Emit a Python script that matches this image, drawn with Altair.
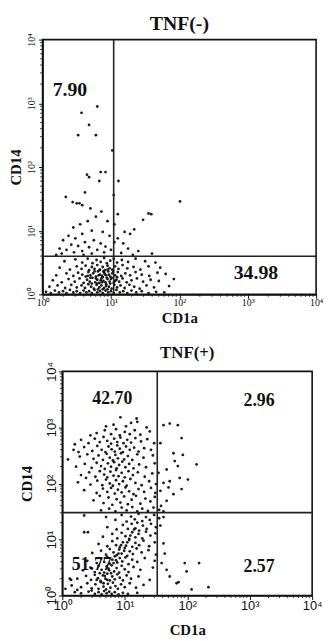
import altair as alt
import pandas as pd

# ---------------- data (log10 decades) ----------------
TICK_VALUES = [1, 10, 100, 1000, 10000]
TICK_LABELS = ["10\u2070", "10\u00b9", "10\u00b2", "10\u00b3", "10\u2074"]
MINOR_TICKS = [m * 10 ** k for k in range(4) for m in range(2, 10)]

TOP_TITLE = "TNF(-)"
BOTTOM_TITLE = "TNF(+)"

TOP_GATE = (1.04, 0.60)      # (CD1a, CD14) gate position in decades
BOTTOM_GATE = (1.52, 1.48)

TOP_LABELS = [("7.90", 0.40, 3.21), ("34.98", 3.12, 0.33)]
BOTTOM_LABELS = [("42.70", 0.80, 3.50), ("2.96", 3.15, 3.47),
                 ("51.77", 0.47, 0.55), ("2.57", 3.15, 0.51)]

TOP_SPARSE = [
    (0.80, 2.95), (0.57, 2.85), (0.68, 2.66), (0.52, 2.50), (0.78, 2.50), (1.02, 2.26),
    (0.85, 1.92), (0.92, 1.92), (0.65, 1.88), (0.68, 1.84), (0.83, 1.78), (1.11, 1.78),
    (0.34, 1.53), (0.44, 1.45), (0.50, 1.43), (0.54, 1.43), (0.58, 1.40), (2.01, 1.46),
    (1.04, 1.56), (1.55, 1.27), (1.59, 1.26), (1.47, 1.17), (1.34, 1.02), (1.10, 1.26),
    (0.62, 1.60), (0.70, 1.35), (0.86, 1.30), (0.78, 1.22), (0.66, 1.15), (0.55, 1.10),
    (0.45, 1.05), (0.95, 1.15), (1.05, 1.10), (1.20, 0.98), (1.28, 0.95), (0.38, 0.92),
    (0.30, 0.85), (0.25, 0.72), (0.48, 0.88), (0.58, 0.95), (0.72, 1.00), (0.88, 0.98),
    (0.98, 0.92), (1.10, 0.88), (1.18, 0.80), (0.62, 0.82), (0.75, 0.85), (0.85, 0.80),
    (0.52, 0.76), (0.42, 0.78), (0.35, 0.70), (0.68, 0.74), (0.92, 0.75), (1.00, 0.70),
    (1.25, 0.72), (1.40, 0.68), (1.05, 0.82), (0.80, 0.70), (0.58, 0.68), (0.46, 0.66),
    (0.28, 0.64), (0.20, 0.62), (0.90, 0.66), (1.15, 0.65), (1.32, 0.62), (1.60, 0.64),
    (0.72, 0.64), (0.60, 0.62),
]

TOP_CLUSTER = [
    (0.05, 0.04), (0.12, 0.02), (0.18, 0.06), (0.24, 0.03), (0.30, 0.05), (0.35, 0.02),
    (0.40, 0.07), (0.45, 0.03), (0.50, 0.05), (0.55, 0.02), (0.60, 0.06), (0.64, 0.03),
    (0.68, 0.05), (0.72, 0.02), (0.76, 0.07), (0.80, 0.03), (0.84, 0.05), (0.88, 0.02),
    (0.92, 0.06), (0.96, 0.03), (1.00, 0.05), (1.04, 0.02), (1.08, 0.07), (1.13, 0.03),
    (1.18, 0.05), (1.24, 0.02), (1.30, 0.06), (1.37, 0.03), (1.45, 0.05), (1.55, 0.02),
    (1.66, 0.04), (1.78, 0.03),
    (0.10, 0.12), (0.22, 0.14), (0.33, 0.10), (0.42, 0.15), (0.50, 0.11), (0.57, 0.14),
    (0.62, 0.10), (0.67, 0.16), (0.71, 0.12), (0.75, 0.09), (0.79, 0.15), (0.83, 0.11),
    (0.86, 0.14), (0.90, 0.10), (0.93, 0.16), (0.97, 0.12), (1.01, 0.09), (1.05, 0.15),
    (1.09, 0.11), (1.14, 0.14), (1.20, 0.10), (1.27, 0.15), (1.34, 0.12), (1.42, 0.09),
    (1.52, 0.14), (1.63, 0.11), (1.85, 0.13),
    (0.15, 0.22), (0.28, 0.19), (0.38, 0.24), (0.47, 0.20), (0.54, 0.25), (0.60, 0.18),
    (0.65, 0.23), (0.69, 0.20), (0.73, 0.26), (0.77, 0.19), (0.80, 0.23), (0.83, 0.18),
    (0.86, 0.25), (0.89, 0.21), (0.92, 0.19), (0.95, 0.24), (0.98, 0.20), (1.01, 0.26),
    (1.04, 0.18), (1.08, 0.23), (1.12, 0.20), (1.17, 0.25), (1.23, 0.19), (1.30, 0.22),
    (1.38, 0.25), (1.47, 0.20), (1.58, 0.23), (1.70, 0.21), (1.92, 0.24),
    (0.20, 0.30), (0.35, 0.33), (0.45, 0.29), (0.52, 0.34), (0.58, 0.31), (0.63, 0.28),
    (0.67, 0.35), (0.70, 0.30), (0.74, 0.33), (0.78, 0.28), (0.81, 0.36), (0.84, 0.31),
    (0.87, 0.29), (0.90, 0.34), (0.93, 0.30), (0.96, 0.36), (0.99, 0.28), (1.02, 0.33),
    (1.06, 0.30), (1.10, 0.35), (1.15, 0.29), (1.21, 0.33), (1.28, 0.30), (1.36, 0.35),
    (1.45, 0.31), (1.56, 0.29), (1.68, 0.34), (1.80, 0.32),
    (0.25, 0.42), (0.40, 0.39), (0.50, 0.44), (0.57, 0.40), (0.63, 0.45), (0.68, 0.38),
    (0.72, 0.43), (0.76, 0.40), (0.80, 0.46), (0.84, 0.39), (0.88, 0.43), (0.91, 0.38),
    (0.95, 0.45), (0.98, 0.41), (1.02, 0.39), (1.06, 0.44), (1.11, 0.40), (1.17, 0.46),
    (1.24, 0.41), (1.33, 0.43), (1.43, 0.39), (1.55, 0.44), (1.72, 0.42),
    (0.32, 0.52), (0.48, 0.55), (0.58, 0.50), (0.66, 0.56), (0.73, 0.49), (0.79, 0.54),
    (0.85, 0.51), (0.90, 0.57), (0.94, 0.49), (0.99, 0.53), (1.04, 0.56), (1.09, 0.50),
    (1.16, 0.54), (1.25, 0.51), (1.36, 0.56), (1.50, 0.52), (1.65, 0.50),
    (0.78, 0.25), (0.82, 0.30), (0.85, 0.22), (0.88, 0.27), (0.91, 0.32), (0.94, 0.26),
    (0.97, 0.31), (1.00, 0.24), (0.76, 0.36), (0.83, 0.38), (0.89, 0.36), (0.95, 0.39),
    (1.03, 0.37), (0.80, 0.17), (0.87, 0.19), (0.93, 0.13), (0.99, 0.17), (0.72, 0.17),
    (1.06, 0.21), (1.09, 0.27), (0.70, 0.26), (0.66, 0.29), (0.88, 0.08), (0.95, 0.08),
    (0.81, 0.08),
]

BOTTOM_UPPER = [
    (0.93, 3.18), (1.19, 3.16), (1.10, 3.08), (0.82, 3.05), (1.02, 3.02), (1.20, 3.10),
    (1.35, 3.00), (0.70, 3.02),
    (0.55, 2.90), (0.68, 2.95), (0.78, 2.88), (0.86, 2.97), (0.92, 2.86), (1.00, 2.92),
    (1.08, 2.88), (1.16, 2.95), (1.25, 2.87), (1.40, 2.93), (0.45, 2.86),
    (0.30, 2.78), (0.42, 2.72), (0.52, 2.80), (0.60, 2.74), (0.66, 2.83), (0.72, 2.76),
    (0.78, 2.71), (0.83, 2.80), (0.88, 2.74), (0.93, 2.82), (0.98, 2.72), (1.04, 2.78),
    (1.10, 2.73), (1.17, 2.81), (1.26, 2.75), (1.36, 2.79), (1.47, 2.72), (0.20, 2.70),
    (0.18, 2.60), (0.35, 2.65), (0.48, 2.58), (0.56, 2.67), (0.63, 2.60), (0.69, 2.56),
    (0.74, 2.66), (0.79, 2.61), (0.84, 2.57), (0.88, 2.68), (0.92, 2.62), (0.97, 2.56),
    (1.02, 2.66), (1.08, 2.60), (1.15, 2.64), (1.22, 2.57), (1.31, 2.63), (1.42, 2.60),
    (0.26, 2.56),
    (0.09, 2.43), (0.28, 2.48), (0.40, 2.52), (0.50, 2.44), (0.58, 2.50), (0.65, 2.42),
    (0.71, 2.53), (0.76, 2.46), (0.81, 2.41), (0.85, 2.51), (0.89, 2.45), (0.94, 2.54),
    (0.99, 2.43), (1.05, 2.49), (1.12, 2.42), (1.20, 2.52), (1.30, 2.46), (1.45, 2.50),
    (0.22, 2.30), (0.36, 2.35), (0.47, 2.28), (0.55, 2.37), (0.62, 2.31), (0.68, 2.26),
    (0.73, 2.36), (0.78, 2.30), (0.83, 2.38), (0.87, 2.27), (0.91, 2.33), (0.96, 2.39),
    (1.01, 2.29), (1.07, 2.35), (1.14, 2.27), (1.23, 2.34), (1.34, 2.29), (1.48, 2.36),
    (0.30, 2.15), (0.43, 2.20), (0.53, 2.12), (0.60, 2.22), (0.67, 2.16), (0.72, 2.11),
    (0.77, 2.21), (0.82, 2.14), (0.86, 2.24), (0.90, 2.13), (0.95, 2.19), (1.00, 2.11),
    (1.06, 2.22), (1.13, 2.15), (1.21, 2.20), (1.32, 2.12), (1.44, 2.18), (0.38, 2.10),
    (0.25, 2.02), (0.45, 1.98), (0.56, 2.05), (0.64, 1.97), (0.70, 2.07), (0.76, 2.00),
    (0.81, 1.96), (0.86, 2.06), (0.91, 1.99), (0.97, 2.04), (1.03, 1.96), (1.09, 2.08),
    (1.17, 2.01), (1.27, 1.97), (1.39, 2.04), (1.50, 1.99),
    (0.35, 1.88), (0.55, 1.83), (0.65, 1.91), (0.72, 1.85), (0.78, 1.92), (0.84, 1.82),
    (0.89, 1.89), (0.95, 1.84), (1.01, 1.93), (1.07, 1.86), (1.14, 1.81), (1.22, 1.90),
    (1.31, 1.85), (1.42, 1.92), (1.49, 1.83),
    (0.50, 1.70), (0.66, 1.65), (0.74, 1.75), (0.80, 1.62), (0.87, 1.72), (0.93, 1.66),
    (0.99, 1.77), (1.05, 1.63), (1.11, 1.71), (1.18, 1.78), (1.25, 1.64), (1.33, 1.73),
    (1.41, 1.68), (1.48, 1.76), (0.60, 1.78),
    (0.62, 1.52), (0.75, 1.55), (0.85, 1.50), (0.95, 1.57), (1.03, 1.52), (1.12, 1.58),
    (1.20, 1.50), (1.28, 1.55), (1.37, 1.51), (1.46, 1.57), (1.55, 1.53), (1.62, 1.50),
]

BOTTOM_LOWER = [
    (0.30, 0.04), (0.42, 0.07), (0.52, 0.03), (0.58, 0.06), (0.63, 0.02), (0.67, 0.08),
    (0.71, 0.04), (0.75, 0.07), (0.79, 0.03), (0.84, 0.06), (0.90, 0.02), (0.97, 0.05),
    (1.05, 0.03), (0.47, 0.09), (0.20, 0.06), (1.20, 0.05),
    (0.15, 0.18), (0.30, 0.15), (0.40, 0.22), (0.47, 0.13), (0.53, 0.20), (0.58, 0.12),
    (0.62, 0.24), (0.66, 0.16), (0.70, 0.11), (0.73, 0.21), (0.77, 0.14), (0.81, 0.23),
    (0.85, 0.17), (0.89, 0.12), (0.94, 0.20), (1.00, 0.15), (1.08, 0.22), (1.18, 0.14),
    (1.30, 0.19),
    (0.24, 0.30), (0.38, 0.35), (0.46, 0.28), (0.52, 0.37), (0.57, 0.31), (0.61, 0.26),
    (0.65, 0.36), (0.69, 0.30), (0.72, 0.39), (0.76, 0.27), (0.80, 0.34), (0.84, 0.29),
    (0.88, 0.38), (0.92, 0.32), (0.97, 0.27), (1.03, 0.36), (1.10, 0.30), (1.22, 0.34),
    (1.40, 0.28),
    (0.33, 0.45), (0.45, 0.50), (0.52, 0.42), (0.58, 0.53), (0.63, 0.46), (0.67, 0.41),
    (0.71, 0.52), (0.75, 0.45), (0.79, 0.54), (0.83, 0.43), (0.87, 0.49), (0.91, 0.41),
    (0.95, 0.53), (1.00, 0.47), (1.06, 0.42), (1.14, 0.51), (1.25, 0.46), (1.45, 0.50),
    (0.40, 0.62), (0.55, 0.58), (0.62, 0.66), (0.67, 0.60), (0.72, 0.69), (0.76, 0.57),
    (0.80, 0.64), (0.84, 0.70), (0.88, 0.59), (0.92, 0.67), (0.96, 0.61), (1.01, 0.68),
    (1.06, 0.56), (1.12, 0.64), (1.20, 0.60), (1.32, 0.67), (1.48, 0.62),
    (0.48, 0.76), (0.62, 0.80), (0.70, 0.73), (0.76, 0.83), (0.82, 0.77), (0.87, 0.72),
    (0.91, 0.82), (0.95, 0.75), (1.00, 0.85), (1.04, 0.71), (1.08, 0.79), (1.13, 0.74),
    (1.19, 0.84), (1.27, 0.77), (1.38, 0.81), (1.50, 0.73),
    (0.58, 0.92), (0.72, 0.88), (0.80, 0.97), (0.86, 0.90), (0.92, 0.86), (0.97, 0.95),
    (1.02, 0.89), (1.07, 0.99), (1.12, 0.87), (1.17, 0.94), (1.23, 0.90), (1.30, 0.98),
    (1.39, 0.88), (1.48, 0.95),
    (0.65, 1.05), (0.80, 1.10), (0.88, 1.02), (0.95, 1.12), (1.01, 1.06), (1.07, 1.01),
    (1.12, 1.13), (1.17, 1.04), (1.22, 1.10), (1.28, 1.02), (1.34, 1.14), (1.41, 1.07),
    (1.49, 1.11),
    (0.72, 1.22), (0.87, 1.18), (0.97, 1.26), (1.05, 1.19), (1.11, 1.28), (1.17, 1.20),
    (1.23, 1.16), (1.29, 1.25), (1.35, 1.19), (1.42, 1.28), (1.50, 1.22),
    (0.70, 1.40), (0.85, 1.35), (0.95, 1.44), (1.03, 1.32), (1.10, 1.41), (1.16, 1.36),
    (1.22, 1.46), (1.28, 1.33), (1.34, 1.40), (1.40, 1.35), (1.47, 1.44), (1.55, 1.38),
    (0.68, 0.35), (0.74, 0.48), (0.78, 0.40), (0.82, 0.58), (0.86, 0.63), (0.90, 0.75),
    (0.94, 0.90), (0.99, 0.80), (1.04, 0.95), (1.09, 1.07), (1.15, 1.18), (1.20, 1.30),
    (0.72, 0.28), (0.66, 0.22), (0.60, 0.40), (0.55, 0.28),
]

BOTTOM_SPARSE = [
    (1.62, 3.04), (1.72, 3.07), (1.85, 3.04), (1.91, 2.81), (1.57, 2.72), (1.78, 2.54),
    (1.93, 2.51), (1.80, 2.40), (1.85, 2.31), (1.67, 2.25), (1.72, 2.04), (1.88, 2.10),
    (2.01, 2.07), (2.15, 2.34), (1.54, 2.19), (1.62, 2.01), (1.57, 1.87), (1.78, 1.81),
    (1.67, 1.69), (1.58, 1.60), (1.70, 1.93), (1.91, 1.90),
    (1.59, 0.58), (1.67, 0.46), (1.72, 0.34), (1.96, 0.58), (1.99, 0.43), (1.83, 0.22),
    (2.07, 0.11), (1.62, 0.93), (1.64, 0.75), (1.57, 1.25), (1.62, 1.40), (2.19, 0.58),
    (2.34, 0.15), (1.86, 0.24),
    (0.14, 0.28), (0.35, 1.13), (0.24, 0.10), (0.12, 0.30), (0.41, 1.13), (0.35, 1.43),
    (0.05, 0.12),
]

# ---------------- helpers ----------------
BLACK = "#111111"
LABEL_EXPR = " : ".join(
    f"datum.value < {v * 3} ? '{t}'" for v, t in zip(TICK_VALUES[:-1], TICK_LABELS[:-1])
) + f" : '{TICK_LABELS[-1]}'"


def to_df(points):
    df = pd.DataFrame(points, columns=["lx", "ly"])
    df["CD1a"] = 10 ** df["lx"]
    df["CD14"] = 10 ** df["ly"]
    return df


def panel(points, gate, labels, title, w, h, style):
    scale = alt.Scale(type="log", domain=[1, 10000], nice=False)
    ax_x = alt.Axis(values=TICK_VALUES, labelExpr=LABEL_EXPR, grid=False,
                    title="CD1a", tickSize=style["tick"], labelPadding=style["xlp"],
                    titlePadding=style["xtp"], labelFont=style["lfont"],
                    labelFontSize=style["lsize"], labelFlush=False)
    ax_y = alt.Axis(values=TICK_VALUES, labelExpr=LABEL_EXPR, grid=False,
                    title="CD14", tickSize=style["tick"], labelPadding=style["ylp"],
                    titlePadding=style["ytp"], labelFont=style["lfont"],
                    labelFontSize=style["lsize"], labelAngle=270, labelAlign="center",
                    labelBaseline="bottom", labelFlush=False)
    X = alt.X("CD1a:Q", scale=scale, axis=ax_x)
    Y = alt.Y("CD14:Q", scale=scale, axis=ax_y)

    lab_df = pd.DataFrame(labels, columns=["txt", "lx", "ly"])
    lab_df["CD1a"] = 10 ** lab_df["lx"]
    lab_df["CD14"] = 10 ** lab_df["ly"]
    texts = alt.Chart(lab_df).mark_text(
        font="Liberation Serif", fontWeight="bold", fontSize=style["qsize"], color=BLACK
    ).encode(x=X, y=Y, text="txt:N")

    dots = alt.Chart(to_df(points)).mark_circle(
        size=style["dot"], color=BLACK, opacity=0.95
    ).encode(x=X, y=Y)

    gate_df = pd.DataFrame({"CD1a": [10 ** gate[0]], "CD14": [10 ** gate[1]]})
    vline = alt.Chart(gate_df).mark_rule(color="#222222", strokeWidth=1.6).encode(x=X)
    hline = alt.Chart(gate_df).mark_rule(color="#222222", strokeWidth=1.6).encode(y=Y)

    minor = pd.DataFrame({"CD1a": MINOR_TICKS, "CD14": MINOR_TICKS})
    mx = alt.Chart(minor).mark_rule(color=BLACK, strokeWidth=0.8).encode(
        x=X, y=alt.value(h), y2=alt.value(h + 2.5))
    my = alt.Chart(minor).mark_rule(color=BLACK, strokeWidth=0.8).encode(
        y=Y, x=alt.value(0), x2=alt.value(-2.5))

    return alt.layer(texts, dots, vline, hline, mx, my).properties(
        width=w, height=h,
        title=alt.TitleParams(title, font="Liberation Serif", fontWeight="bold",
                              fontSize=style["tsize"], offset=style["toff"], color=BLACK),
        view=alt.ViewBackground(stroke=BLACK, strokeWidth=1.6),
    )


TOP_STYLE = dict(tick=4, xlp=-1, xtp=3, ylp=2, ytp=3, lfont="Liberation Serif", lsize=10,
                 qsize=20, tsize=20, toff=-1, dot=8)
BOTTOM_STYLE = dict(tick=4, xlp=0, xtp=10, ylp=0, ytp=11, lfont="Liberation Sans", lsize=13,
                    qsize=18, tsize=17, toff=0, dot=8)

top = panel(TOP_SPARSE + TOP_CLUSTER, TOP_GATE, TOP_LABELS, TOP_TITLE, 277, 258, TOP_STYLE)
bottom = panel(BOTTOM_UPPER + BOTTOM_LOWER + BOTTOM_SPARSE, BOTTOM_GATE, BOTTOM_LABELS,
               BOTTOM_TITLE, 253, 227, BOTTOM_STYLE)

spacer = alt.Chart(pd.DataFrame({"a": [0]})).mark_text(text="").encode(
    x=alt.value(0), y=alt.value(0)
).properties(width=1, height=10, view=alt.ViewBackground(stroke=None))

chart = alt.vconcat(
    alt.hconcat(top, spacing=0),
    alt.hconcat(spacer, bottom, spacing=-25),
    spacing=17,
).properties(
    padding={"left": 0, "top": 1, "right": 0, "bottom": 0},
).configure(
    font="Liberation Serif",
).configure_axis(
    domainColor=BLACK, domainWidth=1.6, tickColor=BLACK, labelColor=BLACK,
    titleColor=BLACK, titleFont="Liberation Serif", titleFontWeight="bold", titleFontSize=15,
).configure_view(
    stroke=None
)

chart.save("out.html", embed_options={"renderer": "svg", "actions": False})
